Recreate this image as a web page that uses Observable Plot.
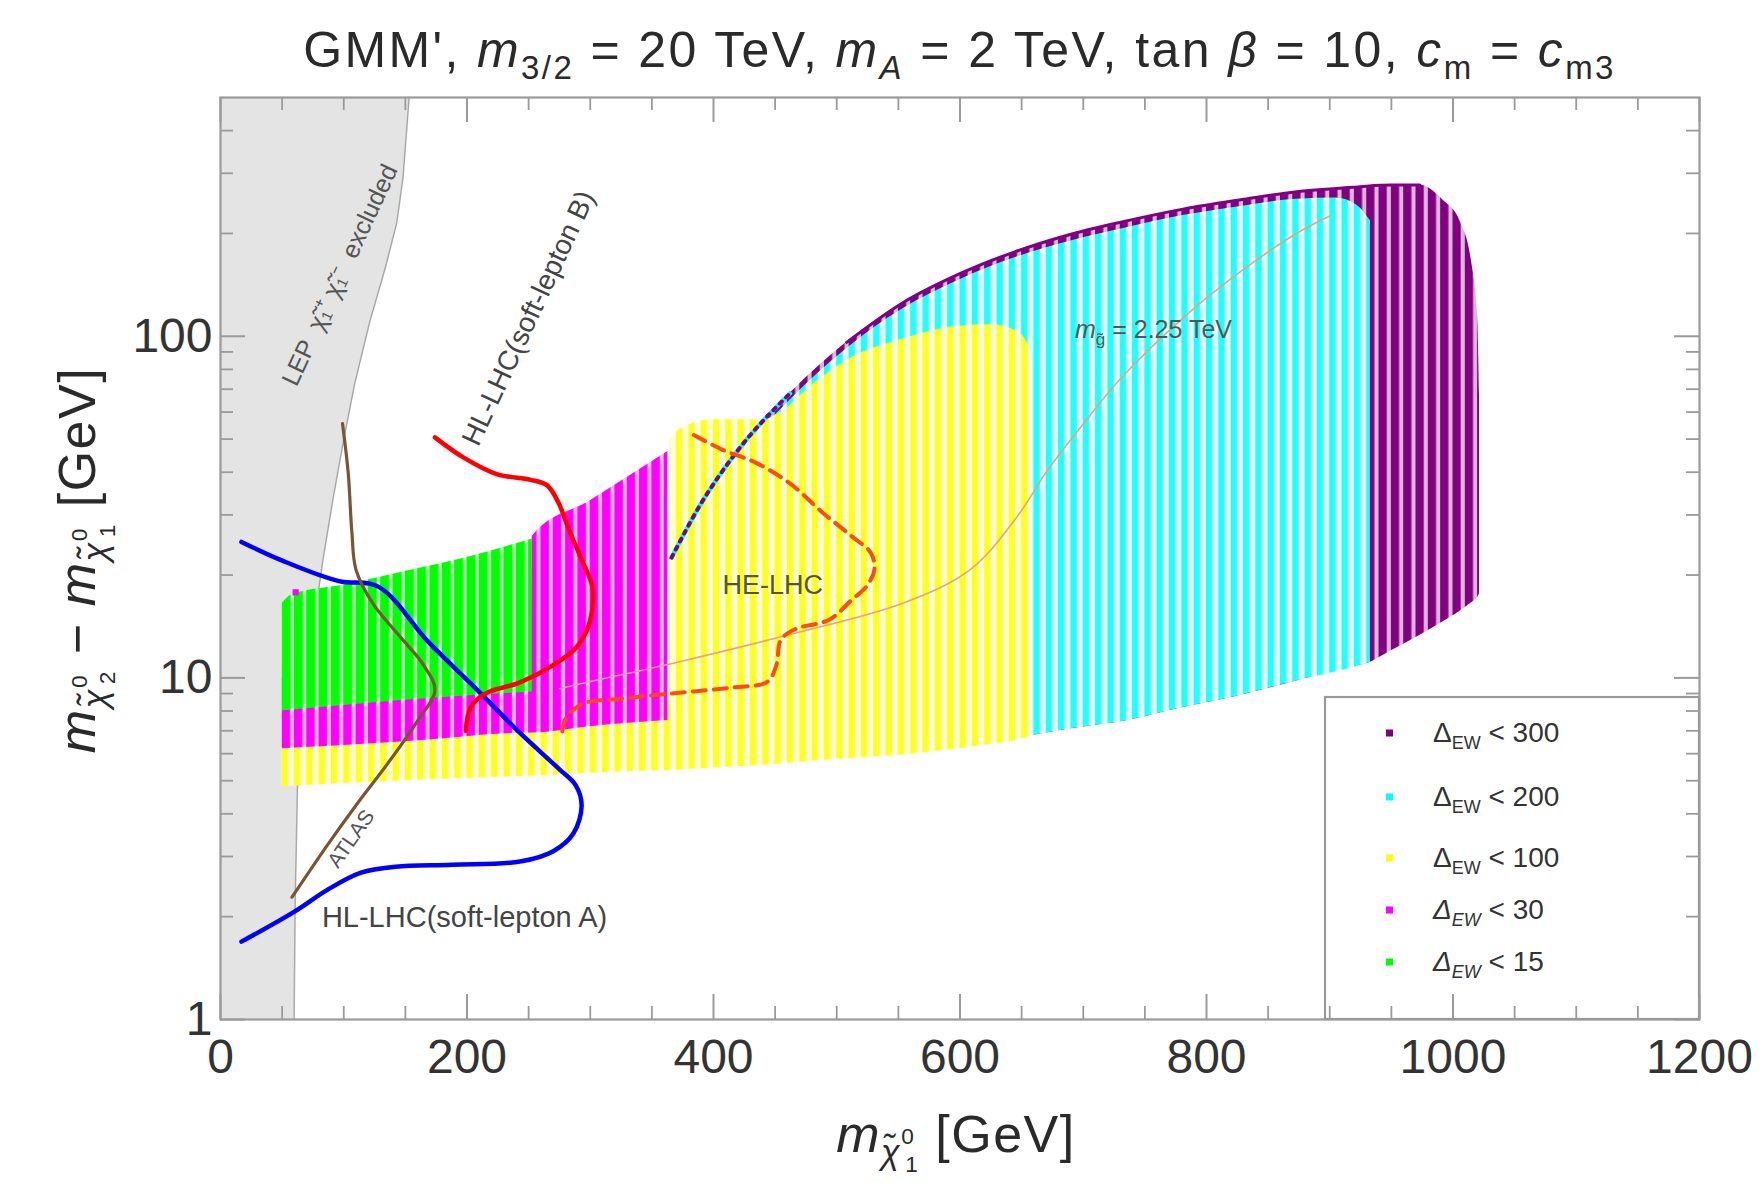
<!DOCTYPE html>
<html>
<head>
<meta charset="utf-8">
<script src="https://cdn.jsdelivr.net/npm/d3@7"></script>
<script src="https://cdn.jsdelivr.net/npm/@observablehq/plot@0.6"></script>
<style>
  body { margin: 0; background: #fff; font-family: "Liberation Sans", Arial, sans-serif; }
  #wrap { position: relative; width: 1764px; height: 1189px; overflow: hidden; }
  #chart { position: absolute; left: 0; top: 0; }
  .lbl { position: absolute; white-space: nowrap; color: #2a2a2a; line-height: 1; }
  .lbl sub, .lbl sup { font-size: 0.66em; line-height: 0; }
  .lbl sub { vertical-align: -0.35em; }
  .lbl sup { vertical-align: 0.55em; }
  #title { left: 220px; width: 1479px; top: 25px; text-align: center; font-size: 50px; letter-spacing: 2.4px; }
  #ylab { left: 79px; top: 560px; font-size: 52px; letter-spacing: 1.5px; transform: translate(-50%, -50%) rotate(-90deg); }
  #xlab { left: 956px; top: 1136px; font-size: 52px; letter-spacing: 1.5px; transform: translate(-50%, -50%); }
</style>
</head>
<body>
<div id="wrap">
  <div id="chart"></div>
  <div class="lbl" id="title">GMM', <i>m</i><sub>3/2</sub> = 20 TeV, <i>m</i><sub><i>A</i></sub> = 2 TeV, tan <i>β</i> = 10, <i>c</i><sub>m</sub> = <i>c</i><sub>m3</sub></div>
  <div class="lbl" id="ylab"><i>m</i><sub><i>χ̃</i><sup style="vertical-align:0.9em">0</sup><sub style="margin-left:-0.45em">2</sub></sub> − <i>m</i><sub><i>χ̃</i><sup style="vertical-align:0.9em">0</sup><sub style="margin-left:-0.45em">1</sub></sub> [GeV]</div>
  <div class="lbl" id="xlab"><i>m</i><sub><i>χ̃</i><sup style="vertical-align:0.9em">0</sup><sub style="margin-left:-0.45em">1</sub></sub> [GeV]</div>
</div>
<script>
// ---- axis ticks -------------------------------------------------------
const xMajorTicks = [0, 200, 400, 600, 800, 1000, 1200];
const xMinorTicks = [50, 100, 150, 250, 300, 350, 450, 500, 550, 650, 700, 750,
                     850, 900, 950, 1050, 1100, 1150];
const yMajorTicks = [1, 10, 100];
const yMinorTicks = [2, 3, 4, 5, 6, 7, 8, 9, 20, 30, 40, 50, 60, 70, 80, 90, 200, 300, 400];

// ---- LEP chargino exclusion boundary (m_chi1, dm) ------------------------
const lepBoundary = [
  {x: 153, y: 500}, {x: 151, y: 400}, {x: 148, y: 290}, {x: 143, y: 215},
  {x: 134, y: 160}, {x: 121, y: 110}, {x: 109, y: 73}, {x: 100, y: 50},
  {x: 91, y: 33}, {x: 83, y: 22}, {x: 76, y: 14.8}, {x: 70, y: 10.1},
  {x: 65, y: 6.9}, {x: 62.4, y: 4.75}, {x: 60.6, y: 2.23}, {x: 59.7, y: 1}
];

// ---- scan regions: lower / upper edge of the point columns --------------
const dew300 = [
  {x: 366, lo: 21, hi: 22.5}, {x: 389, lo: 10, hi: 32}, {x: 417, lo: 7, hi: 45},
  {x: 462, lo: 6.5, hi: 68}, {x: 508, lo: 6.5, hi: 96}, {x: 553, lo: 6.5, hi: 125},
  {x: 599, lo: 6.6, hi: 152}, {x: 645, lo: 6.7, hi: 177}, {x: 690, lo: 7.1, hi: 199},
  {x: 736, lo: 7.5, hi: 218}, {x: 782, lo: 8.2, hi: 236}, {x: 828, lo: 8.9, hi: 251},
  {x: 873, lo: 9.8, hi: 265}, {x: 919, lo: 10.8, hi: 273}, {x: 930, lo: 11.0, hi: 275},
  {x: 950, lo: 12.0, hi: 277}, {x: 973, lo: 13.3, hi: 277}, {x: 992, lo: 14.6, hi: 250},
  {x: 1006, lo: 15.7, hi: 216}, {x: 1015, lo: 16.6, hi: 166}, {x: 1020, lo: 17.2, hi: 114},
  {x: 1021.5, lo: 17.6, hi: 67}
];
const dew200 = [
  {x: 369, lo: 20, hi: 21.5}, {x: 389, lo: 10, hi: 30.5}, {x: 417, lo: 7, hi: 43},
  {x: 462, lo: 6.5, hi: 65}, {x: 508, lo: 6.5, hi: 92}, {x: 553, lo: 6.5, hi: 120},
  {x: 599, lo: 6.6, hi: 146}, {x: 645, lo: 6.7, hi: 170}, {x: 690, lo: 7.1, hi: 190},
  {x: 736, lo: 7.5, hi: 208}, {x: 782, lo: 8.2, hi: 226}, {x: 828, lo: 8.9, hi: 240},
  {x: 873, lo: 9.8, hi: 252}, {x: 905, lo: 10.4, hi: 254}, {x: 922, lo: 10.8, hi: 242},
  {x: 933, lo: 11.1, hi: 218}
];
const dew100 = [
  {x: 50, lo: 4.8, hi: 7}, {x: 150, lo: 5.0, hi: 7.5}, {x: 250, lo: 5.15, hi: 8},
  {x: 364, lo: 5.35, hi: 8.5}, {x: 365, lo: 5.35, hi: 50}, {x: 380, lo: 5.4, hi: 55},
  {x: 400, lo: 5.45, hi: 57}, {x: 440, lo: 5.55, hi: 57}, {x: 455, lo: 5.6, hi: 60},
  {x: 480, lo: 5.7, hi: 72}, {x: 508, lo: 5.8, hi: 85}, {x: 553, lo: 5.95, hi: 98},
  {x: 599, lo: 6.2, hi: 107}, {x: 626, lo: 6.4, hi: 108}, {x: 645, lo: 6.55, hi: 104},
  {x: 655, lo: 6.7, hi: 95}, {x: 658, lo: 6.75, hi: 80}
];
const dew30 = [
  {x: 50, lo: 6.2, hi: 10}, {x: 150, lo: 6.5, hi: 10}, {x: 252, lo: 6.9, hi: 10},
  {x: 253, lo: 6.9, hi: 26}, {x: 300, lo: 7.2, hi: 33}, {x: 363, lo: 7.5, hi: 46}
];
const dew15 = [
  {x: 50, lo: 8.0, hi: 16.5}, {x: 58, lo: 8.05, hi: 17.5}, {x: 100, lo: 8.3, hi: 18.7},
  {x: 150, lo: 8.6, hi: 20.5}, {x: 200, lo: 8.85, hi: 22.5}, {x: 253, lo: 9.1, hi: 25.5}
];
const strayPoints = [{x: 61, y: 17.8}];

// ---- reach / limit contours ------------------------------------------------
const atlasLimit = [
  {x: 99, y: 55.5}, {x: 103.7, y: 39.5}, {x: 106.5, y: 27}, {x: 110, y: 20.7},
  {x: 123.7, y: 16.5}, {x: 146.5, y: 13.1}, {x: 164.8, y: 10.9}, {x: 174, y: 9.2},
  {x: 160, y: 7.5}, {x: 137, y: 5.7}, {x: 110, y: 4.24}, {x: 87, y: 3.25}, {x: 58, y: 2.28}
];
const softLeptonA = [
  {x: 17, y: 25}, {x: 50.7, y: 22}, {x: 96, y: 19.2}, {x: 128, y: 18.5},
  {x: 169, y: 12.7}, {x: 206, y: 9.4}, {x: 243, y: 6.9}, {x: 275, y: 5.4},
  {x: 288, y: 4.86}, {x: 293, y: 4.24}, {x: 286.4, y: 3.51}, {x: 270, y: 3.11},
  {x: 243, y: 2.9}, {x: 188, y: 2.84}, {x: 142, y: 2.8}, {x: 114, y: 2.69},
  {x: 87, y: 2.4}, {x: 60, y: 2.07}, {x: 17, y: 1.69}
];
const softLeptonB = [
  {x: 174, y: 50.6}, {x: 197, y: 44.2}, {x: 224, y: 39.5}, {x: 251.6, y: 38},
  {x: 265, y: 36.6}, {x: 274, y: 32.7}, {x: 283, y: 27}, {x: 292.5, y: 22.4},
  {x: 301.7, y: 18.5}, {x: 301.7, y: 15.9}, {x: 297, y: 13.7}, {x: 288, y: 12.2},
  {x: 270, y: 10.9}, {x: 243, y: 9.7}, {x: 215, y: 9.0}, {x: 203, y: 8.2}, {x: 199, y: 7.0}
];
const heLhc = [
  {x: 384, y: 51.4}, {x: 407, y: 46.6}, {x: 434.6, y: 42.6}, {x: 462, y: 37.1},
  {x: 489.3, y: 30.3}, {x: 512, y: 26}, {x: 527.7, y: 23.2}, {x: 530.5, y: 20.7},
  {x: 524, y: 18.5}, {x: 512, y: 16.9}, {x: 493.9, y: 14.8}, {x: 466.4, y: 13.9},
  {x: 454.6, y: 12.9}, {x: 451, y: 10.9}, {x: 443.6, y: 9.73}, {x: 416.2, y: 9.38},
  {x: 370.5, y: 9.03}, {x: 325, y: 8.69}, {x: 292.7, y: 8.37}, {x: 279, y: 7.47},
  {x: 277.3, y: 6.82}
];
const gluinoContour = [
  {x: 275, y: 9.3}, {x: 297, y: 9.7}, {x: 370, y: 11.1}, {x: 462, y: 13.4},
  {x: 553, y: 16.5}, {x: 608, y: 20.7}, {x: 645, y: 29.2}, {x: 672, y: 41},
  {x: 700, y: 55.4}, {x: 730, y: 75}, {x: 782, y: 114}, {x: 827, y: 154},
  {x: 873, y: 200}, {x: 900, y: 225}
];

// ---- annotations -------------------------------------------------------------
const lepLabel = [{x: 97, y: 151, text: "LEP  χ̃₁⁺ χ̃₁⁻  excluded"}];
const softALabel = [{x: 198, y: 1.98, text: "HL-LHC(soft-lepton A)"}];
const softBLabel = [{x: 250, y: 113, text: "HL-LHC(soft-lepton B)"}];
const atlasLabel = [{x: 106, y: 3.38, text: "ATLAS"}];
const heLabel = [{x: 448, y: 18.6, text: "HE-LHC"}];
const gluinoLabel = [{x: 757, y: 104, text: "m~g = 2.25 TeV"}];

// ---- legend ------------------------------------------------------------------
const legendNames = ["300", "200", "100", "30", "15"];
const legendColors = ["#800080", "#00ffff", "#ffff00", "#ff00ff", "#00ff00"];
const legendItalic = [false, false, false, true, true];

// ---------------------------------------------------------------------------
const M = {left: 220, right: 65, top: 97, bottom: 170};
const W = 1764, H = 1189;
const innerW = W - M.left - M.right, innerH = H - M.top - M.bottom;
const major = 25, minor = 13;
const tickColor = "#9a9a9a";

const plot = Plot.plot({
  width: W, height: H,
  marginLeft: M.left, marginRight: M.right, marginTop: M.top, marginBottom: M.bottom,
  style: {fontFamily: "Liberation Sans, Arial, sans-serif", background: "transparent", color: "#333"},
  x: {domain: [0, 1200], axis: null},
  y: {type: "log", domain: [1, 500], axis: null},
  marks: [
    // LEP excluded band
    Plot.areaX(lepBoundary, {y: "y", x1: 0, x2: "x", fill: "#e4e4e4"}),
    Plot.lineX(lepBoundary, {x: "x", y: "y", stroke: "#a8a8a8", strokeWidth: 1.5}),

    // scan regions, coarsest first
    Plot.areaY(dew300, {x: "x", y1: "lo", y2: "hi", fill: "url(#col-purple)", curve: "monotone-x"}),
    Plot.areaY(dew200, {x: "x", y1: "lo", y2: "hi", fill: "url(#col-cyan)", curve: "monotone-x"}),
    Plot.areaY(dew100, {x: "x", y1: "lo", y2: "hi", fill: "url(#col-yellow)", curve: "monotone-x"}),
    Plot.areaY(dew30, {x: "x", y1: "lo", y2: "hi", fill: "url(#col-magenta)", curve: "monotone-x"}),
    Plot.areaY(dew15, {x: "x", y1: "lo", y2: "hi", fill: "url(#col-green)", curve: "monotone-x"}),
    Plot.dot(strayPoints, {x: "x", y: "y", r: 3.5, symbol: "square", fill: "#ff00ff"}),

    // upper branch of the scan crossing the yellow region
    Plot.line(dew300, {filter: d => d.x <= 480, x: "x", y: "hi", stroke: "#00ffff", strokeWidth: 4.5, curve: "monotone-x"}),
    Plot.line(dew300, {filter: d => d.x <= 480, x: "x", y: "hi", stroke: "#800080", strokeWidth: 4, strokeDasharray: "3,6", curve: "monotone-x"}),
    Plot.line(dew300, {filter: d => d.x >= 470 && d.x <= 975, x: "x", y: "hi", stroke: "#800080", strokeWidth: 3, curve: "monotone-x"}),

    // gluino mass contour
    Plot.line(gluinoContour, {x: "x", y: "y", stroke: "#f0a07a", strokeWidth: 1.6, curve: "catmull-rom"}),

    // limits and projected reaches
    Plot.line(softLeptonA, {x: "x", y: "y", stroke: "#0000ff", strokeWidth: 4.5, curve: "catmull-rom"}),
    Plot.line(atlasLimit, {x: "x", y: "y", stroke: "#7a5533", strokeWidth: 3.2, curve: "catmull-rom"}),
    Plot.line(softLeptonB, {x: "x", y: "y", stroke: "#ff0000", strokeWidth: 4.5, curve: "catmull-rom"}),
    Plot.line(heLhc, {x: "x", y: "y", stroke: "#ff4a12", strokeWidth: 4, strokeDasharray: "13,8", curve: "catmull-rom"}),

    // annotations
    Plot.text(lepLabel, {x: "x", y: "y", text: "text", rotate: -65, fontSize: 25, fill: "#555"}),
    Plot.text(softBLabel, {x: "x", y: "y", text: "text", rotate: -65, fontSize: 28, fill: "#444"}),
    Plot.text(softALabel, {x: "x", y: "y", text: "text", fontSize: 29, fill: "#444"}),
    Plot.text(atlasLabel, {x: "x", y: "y", text: "text", rotate: -55, fontSize: 21, fill: "#555"}),
    Plot.text(heLabel, {x: "x", y: "y", text: "text", fontSize: 27, fill: "#555530"}),
    Plot.text(gluinoLabel, {x: "x", y: "y", text: "text", fontSize: 25, fill: "#555"}),

    // tick labels
    Plot.text(xMajorTicks, {x: d => d, frameAnchor: "bottom", dy: 53, text: d => String(d), fontSize: 48, fill: "#333"}),
    Plot.text(yMajorTicks, {y: d => d, frameAnchor: "left", dx: -8, textAnchor: "end", text: d => String(d), fontSize: 48, fill: "#333"}),

    Plot.frame({stroke: tickColor, strokeWidth: 2.2}),

    // inward frame ticks on all four sides
    Plot.ruleX(xMajorTicks, {x: d => d, insetTop: innerH - major, stroke: tickColor, strokeWidth: 2}),
    Plot.ruleX(xMinorTicks, {x: d => d, insetTop: innerH - minor, stroke: tickColor, strokeWidth: 1.8}),
    Plot.ruleX(xMajorTicks, {x: d => d, insetBottom: innerH - major, stroke: tickColor, strokeWidth: 2}),
    Plot.ruleX(xMinorTicks, {x: d => d, insetBottom: innerH - minor, stroke: tickColor, strokeWidth: 1.8}),
    Plot.ruleY(yMajorTicks, {y: d => d, insetRight: innerW - major, stroke: tickColor, strokeWidth: 2}),
    Plot.ruleY(yMinorTicks, {y: d => d, insetRight: innerW - minor, stroke: tickColor, strokeWidth: 1.8}),
    Plot.ruleY(yMajorTicks, {y: d => d, insetLeft: innerW - major, stroke: tickColor, strokeWidth: 2}),
    Plot.ruleY(yMinorTicks, {y: d => d, insetLeft: innerW - minor, stroke: tickColor, strokeWidth: 1.8})
  ]
});

// striped fills: one coloured column every 10 GeV, as in the parameter scan
const sx = plot.scale("x");
const step = sx.apply(10) - sx.apply(0);
const origin = sx.apply(50);
const svg = d3.select(plot);
const defs = svg.insert("defs", ":first-child");
const fills = [
  {id: "col-purple", color: "#800080", gap: "#dcb4dc", bar: 8.2},
  {id: "col-cyan", color: "#22ffff", gap: "#e2ffff", bar: 6.4},
  {id: "col-yellow", color: "#ffff20", gap: "#ffffd8", bar: 6.4},
  {id: "col-magenta", color: "#ff00ff", gap: "#ffb4ff", bar: 8.4},
  {id: "col-green", color: "#00ff00", gap: "#b4ffb4", bar: 9}
];
for (const f of fills) {
  const p = defs.append("pattern")
    .attr("id", f.id)
    .attr("patternUnits", "userSpaceOnUse")
    .attr("width", step).attr("height", 20)
    .attr("patternTransform", `translate(${origin},0)`);
  p.append("rect").attr("width", step).attr("height", 20).attr("fill", f.gap);
  p.append("rect").attr("width", f.bar).attr("height", 20).attr("fill", f.color);
}

// gluino label with subscript
svg.selectAll("text").filter(function () { return this.textContent === "m~g = 2.25 TeV"; })
  .each(function () {
    const t = d3.select(this);
    t.text(null);
    t.append("tspan").attr("font-style", "italic").text("m");
    t.append("tspan").attr("font-size", 17).attr("dy", 7).text("g̃");
    t.append("tspan").attr("dy", -7).text(" = 2.25 TeV");
  });

// legend box, placed under the frame ticks
const lg = d3.create("svg:g")
  .attr("font-family", "Liberation Sans, Arial, sans-serif")
  .attr("text-anchor", "start");
const boxX = 1325, boxY = 697;
lg.append("rect")
  .attr("x", boxX).attr("y", boxY)
  .attr("width", W - M.right - boxX).attr("height", H - M.bottom - boxY)
  .attr("fill", "#fff").attr("stroke", tickColor).attr("stroke-width", 2.2);
const rowY = [733, 797, 858, 910, 962];
legendNames.forEach((name, i) => {
  lg.append("rect").attr("x", 1386).attr("y", rowY[i] - 3.5).attr("width", 7).attr("height", 7)
    .attr("fill", legendColors[i]);
  const t = lg.append("text").attr("x", 1433).attr("y", rowY[i] + 9)
    .attr("font-size", 28).attr("fill", "#333").attr("text-anchor", "start");
  const st = legendItalic[i] ? "italic" : "normal";
  t.append("tspan").attr("font-style", st).text("Δ");
  t.append("tspan").attr("font-style", st).attr("font-size", 18).attr("dy", 7).text("EW");
  t.append("tspan").attr("dy", -7).text(" < " + name);
});
const frameNode = plot.querySelector('[aria-label="frame"]');
plot.insertBefore(lg.node(), frameNode);

document.getElementById("chart").appendChild(plot);
</script>
</body>
</html>
